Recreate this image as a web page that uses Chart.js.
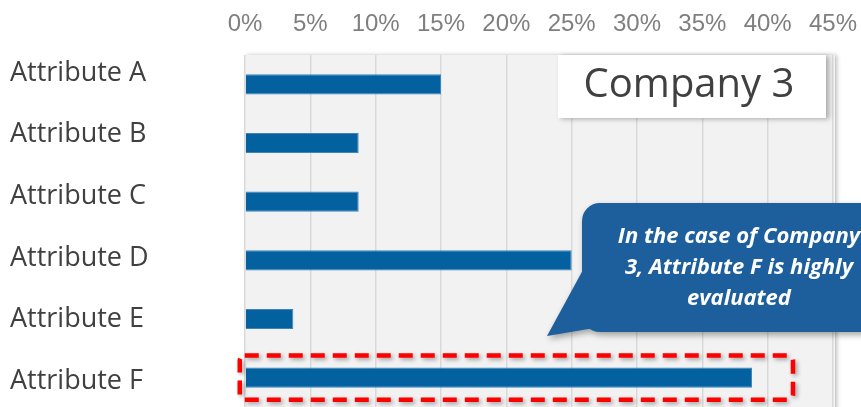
<!DOCTYPE html>
<html>
<head>
<meta charset="utf-8">
<script src="https://cdn.jsdelivr.net/npm/chart.js@4.4.1/dist/chart.umd.min.js"></script>
<style>
  html, body { margin: 0; padding: 0; background: #fff; overflow: hidden; }
  #wrap { position: relative; width: 861px; height: 407px; }
</style>
</head>
<body>
<div id="wrap"><canvas id="chart"></canvas></div>
<script>
// data
const attributes = ["Attribute A", "Attribute B", "Attribute C", "Attribute D", "Attribute E", "Attribute F"];
const shares = [15, 8.7, 8.7, 25, 3.7, 38.8]; // %
const shareTicks = [0, 5, 10, 15, 20, 25, 30, 35, 40, 45];
const companyName = "Company 3";
const calloutLines = ["In the case of Company", "3, Attribute F is highly", "evaluated"];
const highlighted = 5; // index of Attribute F

const BAR = "#03619f";
const BUBBLE = "#1d5f9c";

const plotBackground = {
  id: "plotBackground",
  beforeDraw(chart) {
    const { ctx, chartArea: a } = chart;
    ctx.save();
    ctx.shadowColor = "rgba(0,0,0,0.25)";
    ctx.shadowBlur = 4;
    ctx.shadowOffsetX = 2;
    ctx.fillStyle = "#f2f2f2";
    ctx.fillRect(a.left, a.top, a.right - a.left + 2, a.bottom - a.top + 10);
    ctx.restore();
  }
};

const callouts = {
  id: "callouts",
  afterDraw(chart) {
    const { ctx, chartArea: a } = chart;
    ctx.save();

    // title box "Company 3"
    ctx.save();
    ctx.shadowColor = "rgba(0,0,0,0.3)";
    ctx.shadowBlur = 5;
    ctx.shadowOffsetX = 3;
    ctx.shadowOffsetY = 1;
    ctx.fillStyle = "#ffffff";
    ctx.fillRect(558, a.top, 268, 63);
    ctx.restore();
    ctx.fillStyle = "#404040";
    ctx.font = '40px "Open Sans"';
    ctx.textAlign = "center";
    ctx.textBaseline = "middle";
    ctx.fillText(companyName, 689, 86);

    // speech bubble
    ctx.save();
    ctx.shadowColor = "rgba(0,0,0,0.35)";
    ctx.shadowBlur = 6;
    ctx.shadowOffsetX = 2;
    ctx.shadowOffsetY = 3;
    ctx.fillStyle = BUBBLE;
    ctx.beginPath();
    ctx.roundRect(582, 203, 330, 129, 18);
    ctx.moveTo(584, 268);
    ctx.lineTo(606, 326);
    ctx.lineTo(547, 336);
    ctx.closePath();
    ctx.fill();
    ctx.restore();
    ctx.fillStyle = "#ffffff";
    ctx.font = 'italic bold 22px "Open Sans"';
    calloutLines.forEach((t, i) => ctx.fillText(t, 739, 237 + i * 31));

    // dashed frame around the highlighted bar
    const bar = chart.getDatasetMeta(0).data[highlighted];
    const top = bar.y - bar.height / 2 - 12;
    const bottom = bar.y + bar.height / 2 + 12;
    const left = bar.base - 6;
    const right = bar.x + 41;
    ctx.shadowColor = "rgba(0,0,0,0.35)";
    ctx.shadowBlur = 4;
    ctx.shadowOffsetX = 2;
    ctx.shadowOffsetY = 2;
    ctx.strokeStyle = "#ff0000";
    ctx.lineWidth = 4.5;
    ctx.setLineDash([14, 8]);
    ctx.beginPath();
    ctx.roundRect(left, top, right - left, bottom - top, 5);
    ctx.stroke();
    ctx.restore();
  }
};

function noOverhang(s) {
  s.paddingLeft = 0;
  s.paddingRight = 0;
  s.paddingTop = 0;
  s.paddingBottom = 0;
}

function init() {
  const ctx = document.getElementById("chart");
  new Chart(ctx, {
    type: "bar",
    data: {
      labels: attributes,
      datasets: [{
        data: shares,
        backgroundColor: BAR,
        borderColor: "#3c84c0",
        borderWidth: 1,
        categoryPercentage: 1,
        barPercentage: 0.345
      }]
    },
    options: {
      indexAxis: "y",
      responsive: true,
      maintainAspectRatio: false,
      animation: false,
      layout: { padding: { left: 10, right: 28, top: 0, bottom: 0 } },
      plugins: { legend: { display: false }, tooltip: { enabled: false } },
      scales: {
        x: {
          position: "top",
          min: 0,
          max: 45,
          afterBuildTicks: (s) => { s.ticks = shareTicks.map((v) => ({ value: v })); },
          afterFit: (s) => { s.height = 55; noOverhang(s); },
          grid: { color: "#d9d9d9", lineWidth: 1.5, drawTicks: false },
          border: { display: false },
          ticks: {
            padding: 16,
            color: "#7f7f7f",
            font: { family: "Liberation Sans", size: 24 },
            callback: (v) => v + "%"
          }
        },
        y: { display: false },
        // label axis: names spaced a bit wider than the bars, as in the picture
        // (bar charts turn offset on for the index axis, so switch it off here)
        yl: {
          type: "linear",
          position: "left",
          reverse: true,
          offset: false,
          min: -0.29,
          max: 5.415,
          afterBuildTicks: (s) => { s.ticks = attributes.map((n, i) => ({ value: i })); },
          afterFit: (s) => { s.width = 235; noOverhang(s); },
          grid: { display: false },
          border: { display: false },
          ticks: {
            crossAlign: "far",
            padding: 0,
            color: "#404040",
            font: { family: "Open Sans", size: 27 },
            callback: (v) => attributes[v]
          }
        }
      }
    },
    plugins: [plotBackground, callouts]
  });
}

Promise.all([
  document.fonts.load('27px "Open Sans"'),
  document.fonts.load('italic bold 22px "Open Sans"'),
  document.fonts.load('24px "Liberation Sans"')
]).then(init, init);
</script>
</body>
</html>
